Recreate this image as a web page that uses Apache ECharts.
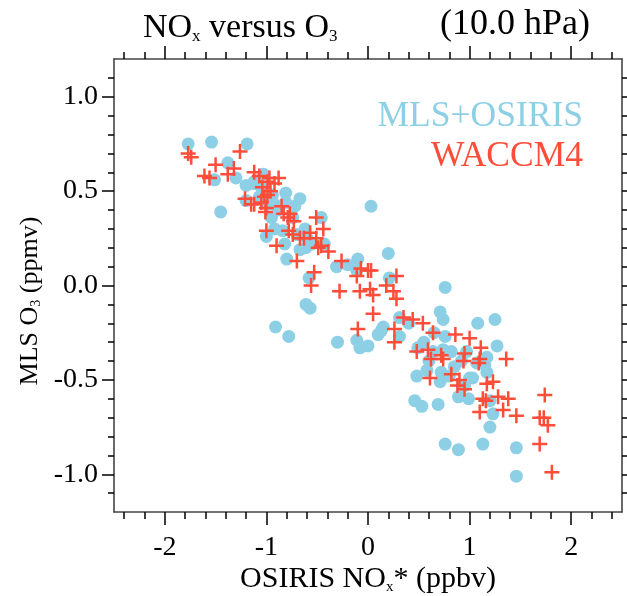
<!DOCTYPE html>
<html>
<head>
<meta charset="utf-8">
<script src="https://cdn.jsdelivr.net/npm/echarts/dist/echarts.min.js"></script>
<style>
html,body{margin:0;padding:0;background:#fff;}
#chart{width:627px;height:596px;}
</style>
</head>
<body>
<div id="chart"></div>
<script>
// ---- data ----
const obsX = [-1.77,-1.54,-1.19,-1.38,-1.30,-1.51,-1.20,-1.03,-1.12,-0.81,-0.67,-1.20,-1.45,-1.07,-0.94,-0.99,-0.92,-0.81,-0.95,-0.92,-1.00,-0.74,-0.84,-0.82,-0.62,-0.46,-0.80,-0.67,-0.61,-0.43,-0.58,-0.31,-0.20,-0.10,-0.11,0.20,0.03,0.21,-0.61,-0.57,-0.91,-0.78,-0.30,-0.11,0.00,-0.08,0.13,0.15,0.31,0.31,0.10,0.76,0.71,0.74,0.76,0.74,0.49,1.08,1.25,0.82,0.97,1.27,0.48,0.58,0.71,0.72,0.85,1.00,1.07,1.17,1.17,0.89,0.99,1.20,0.46,0.53,0.69,1.23,1.20,0.76,0.89,1.13,1.46,1.46,0.64,1.15,1.03,-1.13,-1.05,-0.88,-0.70,-0.55,0.40,0.55,0.65,0.92,0.60,0.80,0.95,-0.72,-0.60];
const obsY = [0.75,0.76,0.75,0.65,0.57,0.56,0.53,0.59,0.55,0.49,0.46,0.45,0.39,0.47,0.48,0.43,0.43,0.44,0.36,0.30,0.26,0.36,0.29,0.22,0.30,0.36,0.14,0.19,0.20,0.22,0.04,0.10,0.11,0.14,0.08,0.17,0.42,0.04,-0.10,-0.12,-0.22,-0.27,-0.30,-0.29,-0.32,-0.33,-0.24,-0.22,-0.17,-0.27,-0.26,-0.01,-0.14,-0.18,-0.27,-0.34,-0.33,-0.20,-0.18,-0.35,-0.35,-0.32,-0.48,-0.45,-0.51,-0.46,-0.43,-0.49,-0.41,-0.38,-0.46,-0.59,-0.60,-0.61,-0.61,-0.64,-0.63,-0.68,-0.75,-0.84,-0.87,-0.84,-0.86,-1.01,-0.35,-0.42,-0.49,0.54,0.52,0.40,0.27,0.22,-0.20,-0.30,-0.25,-0.40,-0.40,-0.48,-0.53,0.42,0.25];
const modX = [-1.77,-1.74,-1.50,-1.26,-1.61,-1.56,-1.38,-1.32,-1.12,-1.07,-0.99,-0.97,-0.88,-1.04,-0.96,-1.02,-1.21,-1.15,-1.05,-1.00,-1.01,-1.12,-0.85,-0.83,-0.77,-0.79,-0.73,-1.00,-0.78,-0.74,-0.90,-0.63,-0.67,-0.51,-0.44,-0.57,-0.51,-0.46,-0.49,-0.39,-0.70,-0.53,-0.56,-0.28,-0.26,-0.11,-0.07,0.00,0.03,-0.08,0.02,0.05,0.28,0.18,0.25,0.28,0.05,-0.10,0.26,0.26,0.35,0.44,0.54,0.64,0.48,0.59,0.62,0.72,0.74,0.86,1.00,1.11,0.95,0.94,1.10,1.09,1.36,0.61,0.82,0.90,0.88,0.95,1.17,1.23,1.16,1.28,1.38,1.10,1.33,1.46,1.74,1.69,1.77,1.69,1.81,1.13,1.73,-0.92,-0.99];
const modY = [0.70,0.68,0.64,0.71,0.58,0.57,0.59,0.62,0.60,0.58,0.55,0.57,0.57,0.52,0.50,0.47,0.46,0.43,0.44,0.41,0.39,0.43,0.42,0.38,0.38,0.36,0.34,0.29,0.29,0.27,0.21,0.25,0.25,0.36,0.30,0.28,0.25,0.21,0.20,0.18,0.13,0.07,0.00,-0.03,0.13,0.05,0.09,0.08,0.08,-0.03,-0.02,-0.05,0.05,0.00,-0.03,-0.07,-0.15,-0.23,-0.23,-0.30,-0.17,-0.18,-0.20,-0.25,-0.35,-0.34,-0.39,-0.37,-0.39,-0.26,-0.28,-0.33,-0.36,-0.40,-0.39,-0.41,-0.39,-0.49,-0.47,-0.50,-0.53,-0.55,-0.52,-0.51,-0.61,-0.59,-0.60,-0.67,-0.66,-0.69,-0.58,-0.70,-0.74,-0.84,-0.99,-0.60,-0.70,0.54,0.48];
const xMajorTicks = [-2,-1,0,1,2];
const xMinorTicks = [-2.4,-2.2,-1.8,-1.6,-1.4,-1.2,-0.8,-0.6,-0.4,-0.2,0.2,0.4,0.6,0.8,1.2,1.4,1.6,1.8,2.2,2.4];
const yMajorTicks = [-1,-0.5,0,0.5,1];
const yMinorTicks = [-1.1,-0.9,-0.8,-0.7,-0.6,-0.4,-0.3,-0.2,-0.1,0.1,0.2,0.3,0.4,0.6,0.7,0.8,0.9,1.1];
const seriesNames = ['MLS+OSIRIS','WACCM4'];

// ---- styles ----
const FONT = '"Liberation Serif","Times New Roman",serif';
const BLUE = '#8dd0e6';
const RED = '#ff4d3a';
const AXC = '#000';
const X_MIN=-2.5, X_MAX=2.5, Y_MIN=-1.2, Y_MAX=1.2;

const obsData = obsX.map((x,i)=>[x,obsY[i]]);
const modData = modX.map((x,i)=>[x,modY[i]]);

const plusPath = 'path://M6.25,0 H8.75 V6.25 H15 V8.75 H8.75 V15 H6.25 V8.75 H0 V6.25 H6.25 Z';

function xAx(pos, ticks, len, showLine, showLabel){
  return {
    type:'value', min:X_MIN, max:X_MAX, position:pos,
    axisLine:{show:showLine, onZero:false, lineStyle:{color:'#444', width:1.6}},
    axisTick:{show:true, inside:false, length:len, customValues:ticks, lineStyle:{color:AXC, width:1.5}},
    axisLabel:{show:showLabel, customValues:ticks, margin:22, fontSize:28, fontFamily:FONT, color:'#000',
      formatter:v=>String(Math.round(v))},
    splitLine:{show:false}, minorTick:{show:false}
  };
}
function yAx(pos, ticks, len, showLine, showLabel){
  return {
    type:'value', min:Y_MIN, max:Y_MAX, position:pos,
    axisLine:{show:showLine, onZero:false, lineStyle:{color:'#444', width:1.6}},
    axisTick:{show:true, inside:false, length:len, customValues:ticks, lineStyle:{color:AXC, width:1.5}},
    axisLabel:{show:showLabel, customValues:ticks, margin:16, fontSize:28, fontFamily:FONT, color:'#000',
      formatter:v=>v.toFixed(1)},
    splitLine:{show:false}, minorTick:{show:false}
  };
}

const subRich = {
  n:{fontSize:34, fontFamily:FONT, lineHeight:40, verticalAlign:'bottom', fill:'#000'},
  s:{fontSize:17, fontFamily:FONT, lineHeight:14, verticalAlign:'bottom', fill:'#000'}
};
const axRich = {
  n:{fontSize:30, fontFamily:FONT, lineHeight:35, verticalAlign:'bottom', fill:'#000'},
  s:{fontSize:15, fontFamily:FONT, lineHeight:12, verticalAlign:'bottom', fill:'#000'}
};
const yRich = {
  n:{fontSize:26, fontFamily:FONT, lineHeight:31, verticalAlign:'bottom', fill:'#000'},
  s:{fontSize:14, fontFamily:FONT, lineHeight:11, verticalAlign:'bottom', fill:'#000'}
};

const chart = echarts.init(document.getElementById('chart'), null, {renderer:'canvas'});
chart.setOption({
  animation:false,
  backgroundColor:'#fff',
  grid:{left:114, right:5, top:59, bottom:84, containLabel:false},
  xAxis:[
    xAx('bottom', xMajorTicks, 13, true, true),
    xAx('bottom', xMinorTicks, 7, false, false),
    xAx('top', xMajorTicks, 13, true, false),
    xAx('top', xMinorTicks, 7, false, false)
  ],
  yAxis:[
    yAx('left', yMajorTicks, 12, true, true),
    yAx('left', yMinorTicks, 6, false, false),
    yAx('right', yMajorTicks, 12, true, false),
    yAx('right', yMinorTicks, 6, false, false)
  ],
  series:[
    {name:seriesNames[0], type:'scatter', data:obsData, symbol:'circle', symbolSize:13,
     itemStyle:{color:BLUE, opacity:1}, xAxisIndex:0, yAxisIndex:0, z:2},
    {name:seriesNames[1], type:'scatter', data:modData, symbol:plusPath, symbolSize:15,
     itemStyle:{color:RED, opacity:1}, xAxisIndex:0, yAxisIndex:0, z:3}
  ],
  graphic:[
    {type:'text', x:143, y:25, z:10, style:{text:'{n|NO}{s|x}{n| versus O}{s|3}', rich:subRich, align:'left', verticalAlign:'middle'}},
    {type:'text', x:440, y:25, z:10, style:{text:'(10.0 hPa)', font:'36px '+FONT, fill:'#000', align:'left', verticalAlign:'middle'}},
    {type:'text', x:583, y:117, z:10, style:{text:seriesNames[0], font:'35.5px '+FONT, fill:BLUE, align:'right', verticalAlign:'middle'}},
    {type:'text', x:583, y:157, z:10, style:{text:seriesNames[1], font:'35.5px '+FONT, fill:RED, align:'right', verticalAlign:'middle'}},
    {type:'text', x:368, y:577, z:10, style:{text:'{n|OSIRIS NO}{s|x}{n|* (ppbv)}', rich:axRich, align:'center', verticalAlign:'middle'}},
    {type:'text', x:28, y:301, rotation:Math.PI/2, z:10, style:{text:'{n|MLS O}{s|3}{n| (ppmv)}', rich:yRich, align:'center', verticalAlign:'middle'}}
  ]
});
</script>
</body>
</html>
